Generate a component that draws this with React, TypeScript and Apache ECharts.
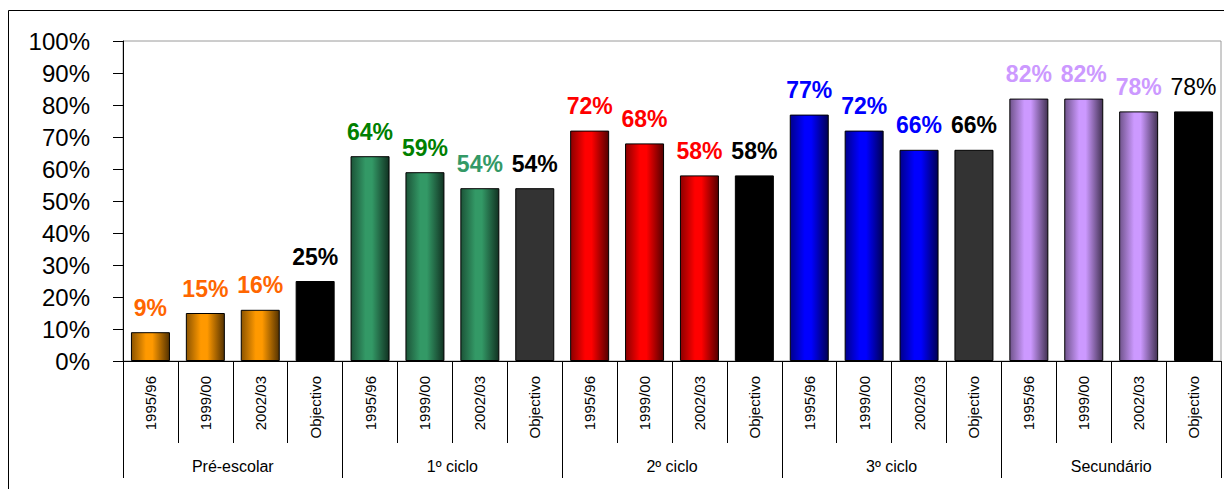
import React, { useEffect, useRef } from "react";
import * as echarts from "echarts";

const groups = ["Pré-escolar", "1º ciclo", "2º ciclo", "3º ciclo", "Secundário"];
const periods = ["1995/96", "1999/00", "2002/03", "Objectivo"];
const preEscolar = [9, 15, 16, 25];
const primeiroCiclo = [64, 59, 54, 54];
const segundoCiclo = [72, 68, 58, 58];
const terceiroCiclo = [77, 72, 66, 66];
const secundario = [82, 82, 78, 78];
const groupValues = [preEscolar, primeiroCiclo, segundoCiclo, terceiroCiclo, secundario];

const barColors = [
  ["#FF9900", "#FF9900", "#FF9900", "#000000"],
  ["#339966", "#339966", "#339966", "#333333"],
  ["#FF0000", "#FF0000", "#FF0000", "#000000"],
  ["#0000FF", "#0000FF", "#0000FF", "#333333"],
  ["#CC99FF", "#CC99FF", "#CC99FF", "#000000"],
];
const labelColors = [
  ["#FF6600", "#FF6600", "#FF6600", "#000000"],
  ["#008000", "#008000", "#339966", "#000000"],
  ["#FF0000", "#FF0000", "#FF0000", "#000000"],
  ["#0000FF", "#0000FF", "#0000FF", "#000000"],
  ["#CC99FF", "#CC99FF", "#CC99FF", "#000000"],
];
const labelWeights = [
  ["bold", "bold", "bold", "bold"],
  ["bold", "bold", "bold", "bold"],
  ["bold", "bold", "bold", "bold"],
  ["bold", "bold", "bold", "bold"],
  ["bold", "bold", "bold", "normal"],
];

function shade(hex: string, f: number) {
  const n = parseInt(hex.slice(1), 16);
  const r = Math.round(((n >> 16) & 255) * f);
  const g = Math.round(((n >> 8) & 255) * f);
  const b = Math.round((n & 255) * f);
  return `rgb(${r},${g},${b})`;
}

function cylinder(hex: string) {
  return new echarts.graphic.LinearGradient(0, 0, 1, 0, [
    { offset: 0, color: shade(hex, 0.55) },
    { offset: 0.38, color: hex },
    { offset: 0.55, color: hex },
    { offset: 1, color: shade(hex, 0.33) },
  ]);
}

const FONT = "'Liberation Sans', Arial, sans-serif";

export default function App() {
  const ref = useRef<HTMLDivElement>(null);
  useEffect(() => {
    if (!ref.current) return;
    const chart = echarts.init(ref.current, undefined, { renderer: "svg" });
    const categories: string[] = [];
    const data: any[] = [];
    groups.forEach((g, gi) => {
      periods.forEach((p, pi) => {
        categories.push(g + "|" + p);
        const isObj = pi === 3;
        data.push({
          value: groupValues[gi][pi],
          itemStyle: {
            color: isObj ? barColors[gi][pi] : cylinder(barColors[gi][pi]),
          },
          label: { color: labelColors[gi][pi], fontWeight: labelWeights[gi][pi] },
        });
      });
    });
    chart.setOption({
      animation: false,
      backgroundColor: "#ffffff",
      grid: {
        left: 123,
        top: 41,
        right: 3,
        bottom: 128,
        show: true,
        borderColor: "#9a9a9a",
        borderWidth: 1,
      },
      graphic: [
        {
          type: "rect",
          shape: { x: 8.5, y: 10.5, width: 1230, height: 500 },
          style: { fill: "none", stroke: "#000", lineWidth: 1 },
          silent: true,
        },
      ],
      xAxis: [
        {
          type: "category",
          data: categories,
          position: "bottom",
          axisLine: { show: true, lineStyle: { color: "#000", width: 1 } },
          axisTick: { show: true, length: 82, lineStyle: { color: "#000" } },
          axisLabel: {
            interval: 0,
            rotate: 90,
            margin: 15,
            fontSize: 15,
            fontFamily: FONT,
            color: "#000",
            formatter: (v: string) => v.split("|")[1],
          },
        },
        {
          type: "category",
          data: groups,
          position: "bottom",
          axisLine: { show: false },
          axisTick: { show: true, length: 117, lineStyle: { color: "#000" } },
          axisLabel: {
            interval: 0,
            margin: 97,
            fontSize: 16,
            fontFamily: FONT,
            color: "#000",
          },
        },
      ],
      yAxis: {
        type: "value",
        min: 0,
        max: 100,
        interval: 10,
        splitLine: { show: false },
        axisLine: { show: true, lineStyle: { color: "#000", width: 1 } },
        axisTick: { show: true, length: 10, lineStyle: { color: "#000" } },
        axisLabel: {
          formatter: "{value}%",
          margin: 33,
          fontSize: 24,
          fontFamily: FONT,
          color: "#000",
        },
      },
      series: [
        {
          type: "bar",
          xAxisIndex: 0,
          data,
          barWidth: 39,
          itemStyle: { borderColor: "#000", borderWidth: 1 },
          label: {
            show: true,
            position: "top",
            distance: 13,
            formatter: "{c}%",
            fontSize: 23,
            fontWeight: "bold",
            fontFamily: FONT,
          },
        },
      ],
    });
    return () => chart.dispose();
  }, []);
  return (
    <div
      ref={ref}
      style={{ position: "fixed", left: 0, top: 0, width: 1224, height: 489 }}
    />
  );
}
